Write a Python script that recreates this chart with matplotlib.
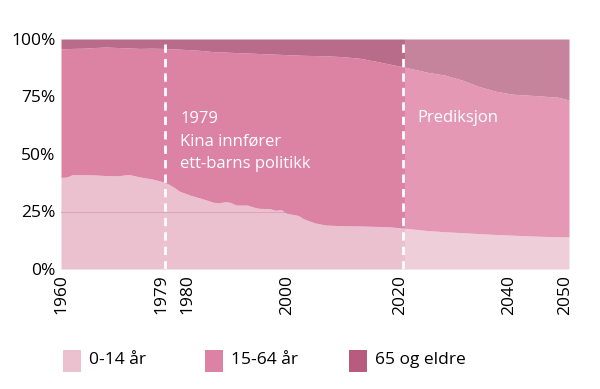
import numpy as np
import matplotlib.pyplot as plt
from matplotlib.patches import Rectangle
import matplotlib.transforms as mtransforms

plt.rcParams['font.family'] = ['Open Sans', 'DejaVu Sans']

years = [1960, 1961, 1962, 1964, 1966, 1968, 1970, 1972, 1974, 1976, 1978, 1979,
         1980, 1981, 1983, 1985, 1987, 1988, 1989, 1990, 1991, 1993, 1994, 1995,
         1997, 1998, 1999, 2000, 2002, 2003, 2005, 2007, 2010, 2013, 2016, 2018,
         2021, 2025, 2028, 2031, 2034, 2037, 2040, 2044, 2048, 2050]
age_0_14 = [39.8, 40.0, 41.0, 41.0, 40.9, 40.6, 40.5, 41.1, 40.0, 39.2, 38.0, 37.0,
            35.5, 33.8, 32.0, 30.6, 29.0, 28.8, 29.2, 29.0, 27.8, 27.8, 27.0, 26.4,
            26.2, 25.5, 25.8, 24.2, 23.3, 21.8, 20.0, 19.1, 18.8, 18.7, 18.5, 18.4,
            17.7, 16.7, 16.2, 15.8, 15.4, 15.0, 14.7, 14.3, 14.0, 14.0]
age_15_64 = [55.9, 55.8, 54.9, 55.0, 55.4, 55.9, 55.8, 55.0, 55.9, 56.8, 57.9, 58.8,
             60.2, 61.8, 63.3, 64.4, 65.5, 65.6, 65.1, 65.2, 66.3, 66.1, 66.8, 67.3,
             67.3, 67.9, 67.5, 69.0, 69.7, 71.1, 72.8, 73.6, 73.5, 72.9, 71.7, 70.8,
             70.0, 68.8, 68.1, 66.4, 64.0, 62.3, 61.3, 61.1, 60.7, 59.5]
age_65 = [4.3, 4.2, 4.1, 4.0, 3.7, 3.5, 3.7, 3.9, 4.1, 4.0, 4.1, 4.2,
          4.3, 4.4, 4.7, 5.0, 5.5, 5.6, 5.7, 5.8, 5.9, 6.1, 6.2, 6.3,
          6.5, 6.6, 6.7, 6.8, 7.0, 7.1, 7.2, 7.3, 7.7, 8.4, 9.8, 10.8,
          12.3, 14.5, 15.7, 17.8, 20.6, 22.7, 24.0, 24.6, 25.3, 26.5]

split_year = 2021
labels = ["0-14 år", "15-64 år", "65 og eldre"]
colors_hist = ["#ebc1d0", "#dc82a3", "#b96c89"]
colors_pred = ["#eeced9", "#e498b3", "#c5849b"]
legend_colors = ["#ebc1d0", "#dc82a3", "#b85c7e"]

x = np.array(years)
s1 = np.array(age_0_14)
s2 = s1 + np.array(age_15_64)
s3 = s2 + np.array(age_65)

fig = plt.figure(figsize=(6, 3.89), dpi=100)
ax = fig.add_axes([61 / 600, 1 - 269 / 389, 508 / 600, 230 / 389])

hist = x <= split_year
pred = x >= split_year
for mask, cols in [(hist, colors_hist), (pred, colors_pred)]:
    ax.fill_between(x[mask], 0, s1[mask], color=cols[0], lw=0, zorder=1)
    ax.fill_between(x[mask], s1[mask], s2[mask], color=cols[1], lw=0, zorder=3)
    ax.fill_between(x[mask], s2[mask], s3[mask], color=cols[2], lw=0, zorder=3)

ax.axhline(25, color="#dba6b9", lw=0.8, zorder=2)

for yr in [1978.4, 2020.6]:
    ax.axvline(yr, ymax=0.985, color="white", lw=2, ls=(0, (3, 2.2)), zorder=5)

ax.text(1981.1, 55.5, "1979\nKina innfører\nett-barns politikk", color="white",
        fontsize=12, va="center", ha="left", linespacing=1.55, zorder=6)
ax.text(2023.2, 65.5, "Prediksjon", color="white", fontsize=12,
        va="center", ha="left", zorder=6)

ax.set_xlim(1960, 2050)
ax.set_ylim(0, 100)
ax.set_yticks([0, 25, 50, 75, 100])
ax.set_yticklabels(["0%", "25%", "50%", "75%", "100%"], fontsize=12.5)
xt = [1960, 1979, 1980, 2000, 2020, 2040, 2050]
ax.set_xticks(xt)
ax.set_xticklabels([str(v) for v in xt], rotation=90, fontsize=12.5)
ax.tick_params(length=0, pad=4)
shifts = {"1979": -7, "1980": 14, "2040": -3, "2050": -4}
for lab in ax.get_xticklabels():
    dx = shifts.get(lab.get_text(), 0)
    if dx:
        lab.set_transform(lab.get_transform() + mtransforms.ScaledTranslation(dx / 100, 0, fig.dpi_scale_trans))
for sp in ax.spines.values():
    sp.set_visible(False)

# legend along the bottom
leg_x = [63, 205, 349]
for lx, lab, col in zip(leg_x, labels, legend_colors):
    fig.patches.append(Rectangle((lx / 600, 1 - 372 / 389), 18 / 600, 22 / 389,
                                 transform=fig.transFigure, color=col, lw=0))
    fig.text((lx + 26) / 600, 1 - 360 / 389, lab, fontsize=12.5, va="center", ha="left")

fig.savefig("out.png", dpi=100)
